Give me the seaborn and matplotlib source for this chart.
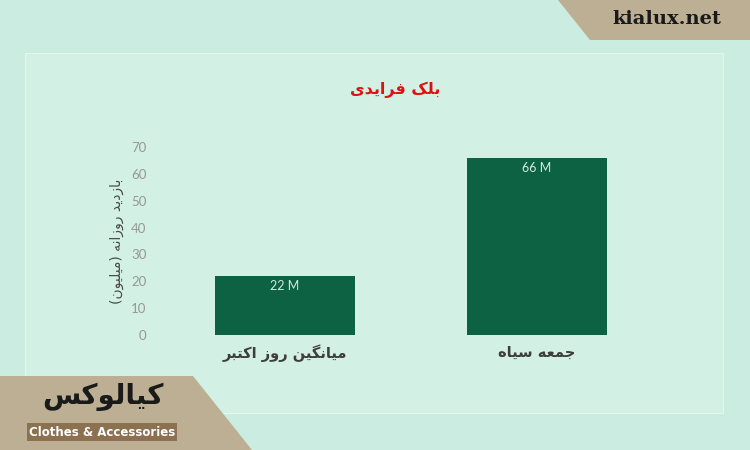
import matplotlib
matplotlib.use("Agg")
import matplotlib.pyplot as plt
import seaborn as sns
from matplotlib.patches import Polygon, Rectangle

# داده‌ها
categories = ["میانگین روز اکتبر", "جمعه سیاه"]
values = [22, 66]
value_labels = ["22 M", "66 M"]
yticks = [0, 10, 20, 30, 40, 50, 60, 70]
title = "بلک فرایدی"
ylabel = "بازدید روزانه (میلیون)"

# شکل‌دهی ساده حروف فارسی (بدون کتابخانه reshaper)
FORMS = {
    "ا": (0xFE8D, 0xFE8E), "ب": (0xFE8F, 0xFE90, 0xFE91, 0xFE92),
    "ت": (0xFE95, 0xFE96, 0xFE97, 0xFE98), "ج": (0xFE9D, 0xFE9E, 0xFE9F, 0xFEA0),
    "د": (0xFEA9, 0xFEAA), "ر": (0xFEAD, 0xFEAE), "ز": (0xFEAF, 0xFEB0),
    "س": (0xFEB1, 0xFEB2, 0xFEB3, 0xFEB4), "ع": (0xFEC9, 0xFECA, 0xFECB, 0xFECC),
    "ف": (0xFED1, 0xFED2, 0xFED3, 0xFED4), "ل": (0xFEDD, 0xFEDE, 0xFEDF, 0xFEE0),
    "م": (0xFEE1, 0xFEE2, 0xFEE3, 0xFEE4), "ن": (0xFEE5, 0xFEE6, 0xFEE7, 0xFEE8),
    "ه": (0xFEE9, 0xFEEA, 0xFEEB, 0xFEEC), "و": (0xFEED, 0xFEEE),
    "ک": (0xFB8E, 0xFB8F, 0xFB90, 0xFB91), "گ": (0xFB92, 0xFB93, 0xFB94, 0xFB95),
    "ی": (0xFBFC, 0xFBFD, 0xFBFE, 0xFBFF),
}


def fa(text):
    out = []
    for i, c in enumerate(text):
        if c not in FORMS:
            out.append(c)
            continue
        f = FORMS[c]
        prev = text[i - 1] if i > 0 else None
        nxt = text[i + 1] if i + 1 < len(text) else None
        jp = prev in FORMS and len(FORMS[prev]) == 4
        jn = len(f) == 4 and nxt in FORMS
        if jp and jn:
            k = 3
        elif jp:
            k = 1
        elif jn:
            k = 2
        else:
            k = 0
        out.append(chr(f[k]))
    s = "".join(reversed(out))
    return s.replace("(", "\0").replace(")", "(").replace("\0", ")")


sns.set_style("white")
plt.rcParams['font.family'] = ['DejaVu Sans']

bg = "#cbece0"
panel = "#d2f0e4"
fig = plt.figure(figsize=(7.5, 4.5), dpi=100)
fig.patch.set_facecolor(bg)


def px(x, y):
    return (x / 750, 1 - y / 450)


# پنل روشن
fig.patches.append(Rectangle(px(25, 413), 698 / 750, 360 / 450, transform=fig.transFigure,
                             facecolor=panel, edgecolor="#e2f7ee", linewidth=0.8, zorder=-1))

ax = fig.add_axes([159 / 750, 1 - 335 / 450, 504 / 750, 188 / 450])
ax.set_zorder(1)
ax.set_facecolor("none")
sns.barplot(x=categories, y=values, color="#0c6243", width=0.556, saturation=1,
            linewidth=0, ax=ax)
ax.set_xlim(-0.5, 1.5)
ax.set_ylim(0, 70)
ax.set_yticks(yticks)
ax.set_yticklabels([str(t) for t in yticks], fontsize=9.5, color="#979797",
                   family=['Lato', 'DejaVu Sans'])
ax.set_xticks([0, 1])
ax.set_xticklabels([fa(c) for c in categories], fontsize=10.5, color="#3d3d3d", fontweight='bold')
ax.tick_params(axis='both', length=0)
ax.tick_params(axis='y', pad=9)
ax.tick_params(axis='x', pad=7)
for sp in ax.spines.values():
    sp.set_visible(False)
ax.set_ylabel(fa(ylabel), fontsize=10, color="#4a4a4a", labelpad=5)
ax.set_xlabel("")

for i, (v, lab) in enumerate(zip(values, value_labels)):
    ax.annotate(lab, (i, v), xytext=(0, -7.5), textcoords="offset points", ha="center", va="center",
                fontsize=9, color="#d6e8e0", family=['Lato', 'DejaVu Sans'])

fig.text(395 / 750, 1 - 90 / 450, fa(title), ha="center", va="center", fontsize=11.5,
         fontweight="bold", color="#e01010")

# بنر بالا راست
tan = "#bcaf94"
fig.patches.append(Polygon([px(558, 0), px(590, 40), px(750, 40), px(750, 0)], closed=True,
                           transform=fig.transFigure, facecolor=tan, edgecolor="none", zorder=2))
fig.text(667 / 750, 1 - 19 / 450, "kialux.net", ha="center", va="center", fontsize=14,
         fontweight="bold", color="#1a1a1a", family="DejaVu Serif", zorder=3)

# لوگوی پایین چپ
fig.patches.append(Polygon([px(0, 376), px(193, 376), px(252, 450), px(0, 450)], closed=True,
                           transform=fig.transFigure, facecolor=tan, edgecolor="none", zorder=2))
fig.text(103 / 750, 1 - 397 / 450, fa("کیالوکس"), ha="center", va="center", fontsize=20,
         fontweight="bold", color="#1a1a1a", zorder=3)
fig.patches.append(Rectangle(px(27, 441), 150 / 750, 18 / 450, transform=fig.transFigure,
                             facecolor="#8c7150", edgecolor="none", zorder=3))
fig.text(102 / 750, 1 - 432 / 450, "Clothes & Accessories", ha="center", va="center", fontsize=8.5,
         fontweight="bold", color="white", zorder=4)

fig.savefig("out.png", dpi=100, facecolor=fig.get_facecolor())
